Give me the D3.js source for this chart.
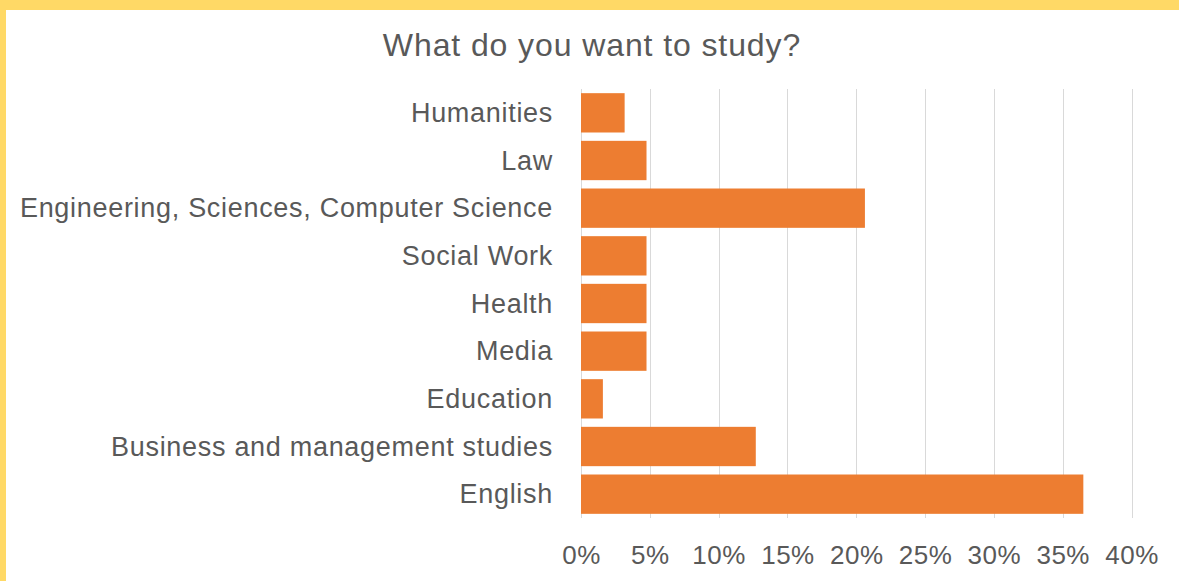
<!DOCTYPE html>
<html>
<head>
<meta charset="utf-8">
<script src="https://cdn.jsdelivr.net/npm/d3@7"></script>
<style>
  html, body { margin: 0; padding: 0; background: #ffffff; }
  svg { display: block; }
</style>
</head>
<body>
<svg id="chart" width="1179" height="581"></svg>
<script>
// Survey answers: share of respondents per field of study
const categories = [
  "Humanities",
  "Law",
  "Engineering, Sciences, Computer Science",
  "Social Work",
  "Health",
  "Media",
  "Education",
  "Business and management studies",
  "English"
];
const shares = [0.0317, 0.0476, 0.2063, 0.0476, 0.0476, 0.0476, 0.0159, 0.127, 0.365];
const tickValues = [0, 0.05, 0.10, 0.15, 0.20, 0.25, 0.30, 0.35, 0.40];
const tickLabels = ["0%", "5%", "10%", "15%", "20%", "25%", "30%", "35%", "40%"];
const title = "What do you want to study?";

const W = 1179, H = 581;
const plot = { left: 581, right: 1131.5, top: 89, bottom: 518 };
const textColor = "#595959";
const font = "'Liberation Sans', Arial, sans-serif";

const svg = d3.select("#chart");

// yellow frame along the top and left edges
svg.append("rect").attr("x", 0).attr("y", 0).attr("width", W).attr("height", 10).attr("fill", "#FFD966");
svg.append("rect").attr("x", 0).attr("y", 0).attr("width", 6).attr("height", H).attr("fill", "#FFD966");

const x = d3.scaleLinear().domain([0, 0.40]).range([plot.left, plot.right]);
const y = d3.scaleBand().domain(categories).range([plot.top, plot.bottom])
  .paddingInner(0.175).paddingOuter(0.0875);

// vertical gridlines
svg.append("g")
  .selectAll("line")
  .data(tickValues)
  .join("line")
  .attr("x1", d => Math.round(x(d)) + 0.5)
  .attr("x2", d => Math.round(x(d)) + 0.5)
  .attr("y1", plot.top)
  .attr("y2", plot.bottom)
  .attr("stroke", "#d9d9d9")
  .attr("stroke-width", 1);

// bars
svg.append("g")
  .selectAll("rect")
  .data(categories)
  .join("rect")
  .attr("x", x(0))
  .attr("y", d => y(d))
  .attr("width", (d, i) => x(shares[i]) - x(0))
  .attr("height", y.bandwidth())
  .attr("fill", "#ED7D31");

// category axis
const yAxis = svg.append("g")
  .attr("transform", `translate(${plot.left},0)`)
  .call(d3.axisLeft(y).tickSize(0).tickPadding(28));
yAxis.select(".domain").remove();
yAxis.selectAll("text")
  .attr("fill", textColor)
  .attr("dy", "0.34em")
  .style("font-family", font)
  .style("font-size", "27px")
  .style("letter-spacing", "0.7px");

// value axis
const xAxis = svg.append("g")
  .attr("transform", `translate(0,${plot.bottom})`)
  .call(d3.axisBottom(x).tickValues(tickValues)
    .tickFormat((d, i) => tickLabels[i]).tickSize(0).tickPadding(28));
xAxis.select(".domain").remove();
xAxis.selectAll("text")
  .attr("fill", textColor)
  .style("font-family", font)
  .style("font-size", "26px")
  .style("letter-spacing", "0.5px");

// title
svg.append("text")
  .attr("x", 592)
  .attr("y", 56)
  .attr("text-anchor", "middle")
  .attr("fill", textColor)
  .style("font-family", font)
  .style("font-size", "32px")
  .style("letter-spacing", "0.9px")
  .text(title);
</script>
</body>
</html>
